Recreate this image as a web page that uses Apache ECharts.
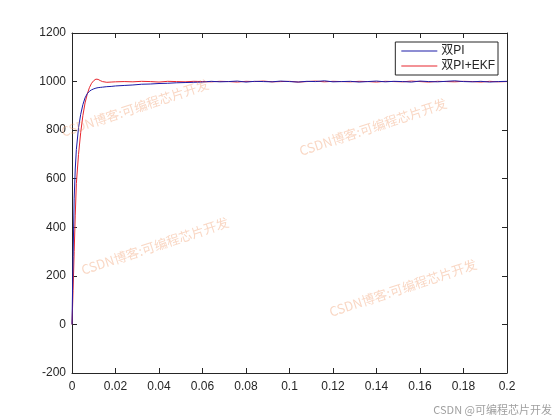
<!DOCTYPE html>
<html><head><meta charset="utf-8">
<script src="https://cdn.jsdelivr.net/npm/echarts@6/dist/echarts.min.js"></script>
<style>html,body{margin:0;padding:0;background:#fff}#c{width:560px;height:420px}</style>
</head><body><div id="c"></div>
<script>
var times = [0,0.0005,0.001,0.0015,0.002,0.003,0.004,0.005,0.006,0.007,0.008,0.009,0.010,0.011,0.012,0.013,0.014,0.016,0.018,0.020,
  0.024,0.028,0.032,0.036,0.040,0.044,0.048,0.052,0.056,0.060,
  0.064,0.068,0.072,0.076,0.080,0.084,0.088,0.092,0.096,0.100,0.104,0.108,0.112,0.116,0.120,0.124,0.128,0.132,0.136,0.140,
  0.144,0.148,0.152,0.156,0.160,0.164,0.168,0.172,0.176,0.180,0.184,0.188,0.192,0.196,0.200];
var dualPI = [0,280,520,640,720,810,865,905,933,950,960,966,970,973,975,976,977,979,980,982,
  984,986,989,990,992,993,995,996,997,998,
  1001,999,1000,1002,998,1001,1000,999,1002,1000,998,1001,1000,1003,999,1000,1001,998,1000,1002,
  999,1001,1000,998,1002,1000,999,1001,1003,1000,999,1001,998,1000,1001];
var dualPIEKF = [0,140,300,450,580,700,790,860,912,948,975,993,1004,1010,1009,1004,1000,997,998,999,
  1000,999,1001,1000,998,1001,1000,999,1001,1000,
  999,1001,1000,998,1001,1000,1002,999,1000,1001,998,1000,1002,999,1001,1000,999,1001,1000,998,
  1001,1000,999,1002,1000,998,1001,1000,999,1001,1000,998,1001,999,1000];
var seriesNames = ['双PI','双PI+EKF'];
var xTicks = {min:0, max:0.2, interval:0.02};
var yTicks = {min:-200, max:1200, interval:200};
var watermark = 'CSDN博客:可编程芯片开发';
var credit = 'CSDN @可编程芯片开发';

function pairs(vals){ return times.map(function(t,i){ return [t, vals[i]]; }); }

var chart = echarts.init(document.getElementById('c'), null, {renderer:'canvas'});
var axisCol = '#262626';
var font = 'Liberation Sans, Arial, sans-serif';
var wmStyle = {fill:'rgba(240,150,100,0.38)', font:'13px "Noto Sans CJK SC", sans-serif', text:watermark, textAlign:'center', textVerticalAlign:'middle'};
function wm(x,y){ return {type:'text', x:x, y:y, rotation:0.32, z:100, silent:true, style:Object.assign({}, wmStyle)}; }
function boxAxis(extra){
  return Object.assign({
    type:'value',
    axisLine:{show:true, onZero:false, lineStyle:{color:axisCol, width:1}},
    axisTick:{show:true, inside:true, length:5, lineStyle:{color:axisCol}},
    splitLine:{show:false}
  }, extra);
}

chart.setOption({
  animation:false,
  backgroundColor:'#fff',
  grid:{left:72, right:53, top:33, bottom:47},
  legend:{
    orient:'vertical', right:62, top:42, data:seriesNames, icon:'rect',
    borderColor:axisCol, borderWidth:1, backgroundColor:'#fff', borderRadius:0,
    padding:[3,3,3,6], itemGap:3, itemWidth:36, itemHeight:1,
    textStyle:{fontFamily:font + ', "Noto Sans CJK SC"', fontSize:12, color:'#262626', padding:[0,0,0,-1]}
  },
  xAxis:[
    boxAxis({position:'bottom', min:xTicks.min, max:xTicks.max, interval:xTicks.interval,
      axisLabel:{color:axisCol, fontFamily:font, fontSize:12, margin:8, formatter:function(v){return String(+v.toFixed(2));}}}),
    boxAxis({position:'top', min:xTicks.min, max:xTicks.max, interval:xTicks.interval, axisLabel:{show:false}})
  ],
  yAxis:[
    boxAxis({position:'left', min:yTicks.min, max:yTicks.max, interval:yTicks.interval,
      axisLabel:{color:axisCol, fontFamily:font, fontSize:12, margin:6, formatter:function(v){return String(v);}}}),
    boxAxis({position:'right', min:yTicks.min, max:yTicks.max, interval:yTicks.interval, axisLabel:{show:false}})
  ],
  series:[
    {name:seriesNames[0], type:'line', data:pairs(dualPI), symbol:'none', showSymbol:false, lineStyle:{color:'#1c1ca8', width:1}, itemStyle:{color:'#1c1ca8'}, z:3},
    {name:seriesNames[1], type:'line', data:pairs(dualPIEKF), symbol:'none', showSymbol:false, lineStyle:{color:'#e8262e', width:1}, itemStyle:{color:'#e8262e'}, z:2}
  ],
  graphic:[
    wm(135,108), wm(373,127), wm(155,246), wm(403,288),
    {type:'text', right:8, bottom:5, silent:true, style:{text:credit, fill:'#a0a0a0', font:'11px "Noto Sans CJK SC", sans-serif'}}
  ]
});
</script></body></html>
